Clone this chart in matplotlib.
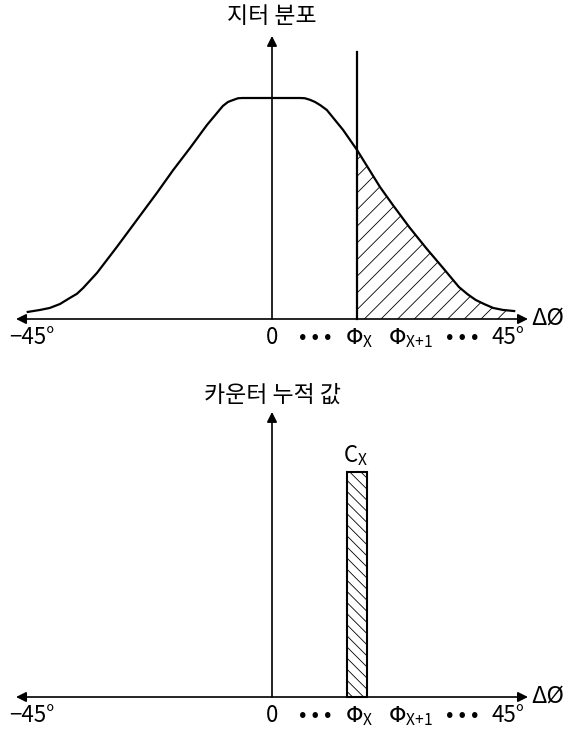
"""지터 분포와 카운터 누적 값 도식."""

import matplotlib

matplotlib.use("Agg")
import matplotlib.pyplot as plt

plt.rcParams["font.family"] = ["Noto Sans CJK KR", "DejaVu Sans"]
plt.rcParams["hatch.linewidth"] = 0.6

# 위상차(도) / 정규화된 지터 분포
jitter_x = [-47.7, -45.3, -43.4, -41.4, -39.5, -38.1, -36.9, -34.2, -30.3, -26.4,
            -22.5, -19.3, -16.0, -12.7, -9.6, -8.6, -7.6, -6.6, -5.7, 5.5,
            6.4, 7.4, 8.4, 9.4, 10.7, 13.9, 16.6, 21.1, 23.6, 26.8,
            30.1, 33.4, 36.5, 38.2, 39.8, 41.5, 43.2, 45.1, 47.3]
jitter_y = [0.032, 0.041, 0.050, 0.068, 0.095, 0.114, 0.140, 0.208, 0.326, 0.448,
            0.570, 0.674, 0.774, 0.878, 0.964, 0.982, 0.991, 0.999, 1.0, 1.0,
            0.999, 0.992, 0.982, 0.968, 0.946, 0.855, 0.765, 0.597, 0.516, 0.416,
            0.321, 0.231, 0.145, 0.112, 0.086, 0.067, 0.050, 0.041, 0.036]

phi_x = 16.6
counter_value = 1.02
bar_width = 3.9

tick_pos = [-46.9, 0, 8.4, 17.1, 27.0, 37.1, 46.1]
tick_text = ["−45°", "0", "• • •", r"$\Phi_{\mathregular{X}}$",
             r"$\Phi_{\mathregular{X{+}1}}$", "• • •", "45°"]

# 픽셀 기준: 0도 = 272px, 1도 = 5.12px, 1단위 = 221px
X_LIM = (-272 / 5.12, (566 - 272) / 5.12)

fig = plt.figure(figsize=(5.66, 7.35), dpi=100)
ax_top = fig.add_axes([0, 0.5, 1, 0.5])
ax_bot = fig.add_axes([0, 0, 1, 0.5])
ax_top.set_ylim((319 - 367.5) / 221, 319 / 221)
ax_bot.set_ylim((697 - 735) / 221, (697 - 367.5) / 221)


def draw_axes(ax, title, y_tip):
    ax.set_xlim(*X_LIM)
    ax.axis("off")
    arrow = dict(arrowstyle="<|-|>", mutation_scale=15, lw=1.2, color="k",
                 shrinkA=0, shrinkB=0)
    ax.annotate("", xy=(50, 0), xytext=(-50, 0), arrowprops=arrow)
    up = dict(arrowstyle="-|>", mutation_scale=15, lw=1.2, color="k",
              shrinkA=0, shrinkB=0)
    ax.annotate("", xy=(0, y_tip), xytext=(0, 0), arrowprops=up)
    ax.text(0, 1.367, title, ha="center", va="center", fontsize=16.5)
    ax.text(50.6, 0.005, "ΔØ", ha="left", va="center", fontsize=17)
    for pos, txt in zip(tick_pos, tick_text):
        ax.text(pos, -0.085, txt, ha="center", va="center", fontsize=16)


draw_axes(ax_top, "지터 분포", 1.281)
ax_top.plot(jitter_x, jitter_y, color="k", lw=1.6)
ax_top.plot([phi_x, phi_x], [0, 1.208], color="k", lw=1.6)
hx = [x for x in jitter_x if x >= phi_x]
hy = [y for x, y in zip(jitter_x, jitter_y) if x >= phi_x]
ax_top.fill_between(hx, 0, hy, facecolor="none", edgecolor="k", lw=0, hatch="//")

draw_axes(ax_bot, "카운터 누적 값", 1.29)
ax_bot.bar(phi_x, counter_value, width=bar_width, facecolor="white",
           edgecolor="k", lw=1.5, hatch="\\\\\\", zorder=3)
ax_bot.text(phi_x - 0.2, counter_value + 0.07, r"C$_{\mathregular{X}}$",
            ha="center", va="center", fontsize=16)

fig.savefig("out.png", dpi=100)
